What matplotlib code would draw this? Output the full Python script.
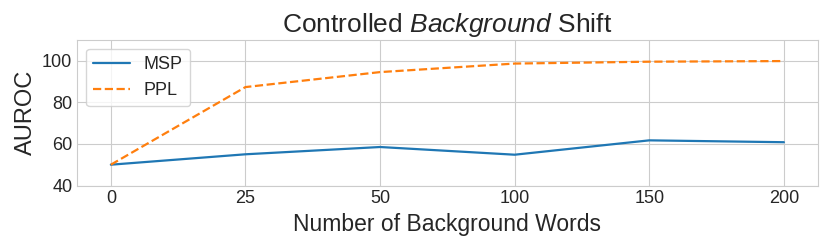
import matplotlib
matplotlib.use("Agg")
import matplotlib.pyplot as plt
import seaborn as sns

# Number of background words (categorical positions on the x axis)
word_counts = ["0", "25", "50", "100", "150", "200"]
msp_auroc = [50.0, 55.0, 58.5, 54.8, 61.7, 60.8]
ppl_auroc = [50.0, 87.3, 94.5, 98.6, 99.5, 99.8]

sns.set_style("whitegrid")
plt.rcParams["font.family"] = ["Liberation Sans", "DejaVu Sans"]
plt.rcParams["mathtext.fontset"] = "custom"
plt.rcParams["mathtext.it"] = "Liberation Sans:italic"
plt.rcParams["mathtext.rm"] = "Liberation Sans"

fig, ax = plt.subplots(figsize=(8.3, 2.49), dpi=100)
x = range(len(word_counts))
ax.plot(x, msp_auroc, color="#1f77b4", linewidth=1.6, label="MSP")
ax.plot(x, ppl_auroc, color="#ff7f0e", linewidth=1.6, linestyle="--", label="PPL")

ax.set_xticks(list(x))
ax.set_xticklabels(word_counts)
ax.set_xlim(-0.25, len(word_counts) - 0.75)
ax.set_ylim(40, 110)
ax.set_yticks([40, 60, 80, 100])
ax.tick_params(labelsize=13, length=0)
for s in ax.spines.values():
    s.set_color("#cccccc")

ax.set_title(r"Controlled $\it{Background}$ Shift", fontsize=19)
ax.set_xlabel("Number of Background Words", fontsize=16.5)
ax.set_ylabel("AUROC", fontsize=17)
ax.legend(loc="upper left", fontsize=13, frameon=True)

fig.subplots_adjust(left=0.093, right=0.985, top=0.84, bottom=0.255)
fig.savefig("out.png", dpi=100)
